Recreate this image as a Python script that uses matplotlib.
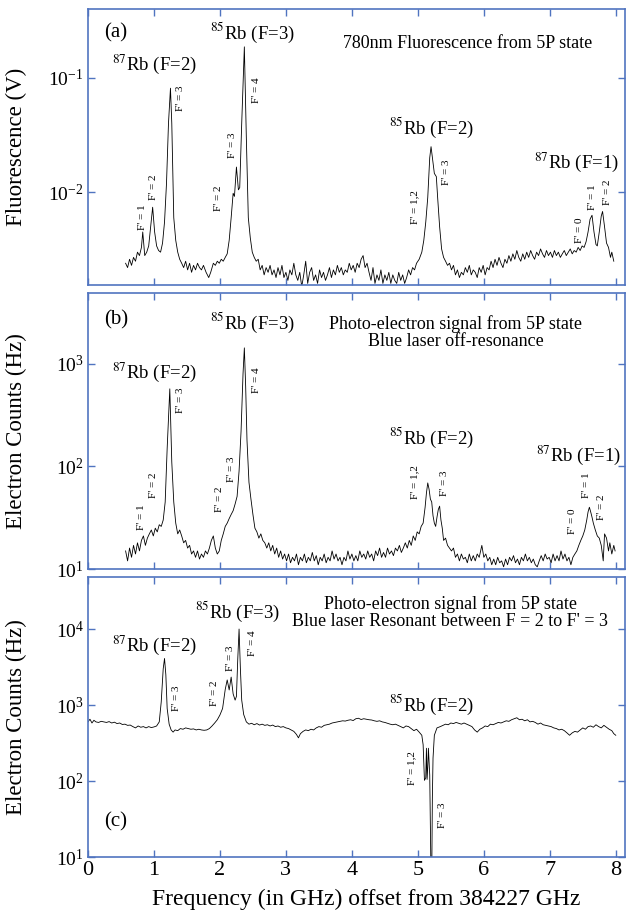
import numpy as np
import matplotlib.pyplot as plt
from matplotlib.ticker import LogLocator, NullLocator

plt.rcParams['font.family'] = ['Liberation Serif', 'DejaVu Serif']
plt.rcParams['mathtext.fontset'] = 'stix'

# ---- panel (a): 780nm fluorescence (V) ----
freq_a = [0.57, 0.60, 0.63, 0.66, 0.69, 0.72, 0.75, 0.78, 0.81, 0.83, 0.86, 0.89, 0.92, 0.95, 0.98,
          1.01, 1.04, 1.07, 1.10, 1.13, 1.16, 1.19, 1.22, 1.25, 1.27, 1.30, 1.33, 1.36, 1.39, 1.42,
          1.45, 1.48, 1.51, 1.54, 1.57, 1.60, 1.63, 1.66, 1.69, 1.72, 1.75, 1.79, 1.83, 1.86, 1.90,
          1.93, 1.96, 1.99, 2.02, 2.05, 2.08, 2.11, 2.14, 2.17, 2.20, 2.22, 2.25, 2.28, 2.30, 2.33,
          2.37, 2.40, 2.43, 2.46, 2.49, 2.52, 2.55, 2.58, 2.61, 2.64, 2.67, 2.70, 2.73, 2.76, 2.79,
          2.82, 2.85, 2.88, 2.91, 2.94, 2.97, 3.00, 3.03, 3.06, 3.09, 3.12, 3.15, 3.18, 3.21, 3.24,
          3.27, 3.30, 3.33, 3.36, 3.39, 3.42, 3.45, 3.48, 3.51, 3.54, 3.57, 3.60, 3.63, 3.66, 3.69,
          3.72, 3.75, 3.78, 3.81, 3.84, 3.87, 3.90, 3.93, 3.96, 3.99, 4.02, 4.05, 4.08, 4.11, 4.14,
          4.17, 4.20, 4.23, 4.26, 4.29, 4.32, 4.35, 4.38, 4.41, 4.44, 4.47, 4.50, 4.53, 4.56, 4.59,
          4.62, 4.65, 4.68, 4.71, 4.74, 4.77, 4.80, 4.83, 4.86, 4.89, 4.92, 4.95, 4.98, 5.02, 5.06,
          5.09, 5.12, 5.15, 5.18, 5.20, 5.23, 5.25, 5.28, 5.30, 5.33, 5.36, 5.39, 5.42, 5.45, 5.48,
          5.51, 5.54, 5.57, 5.60, 5.63, 5.66, 5.69, 5.72, 5.75, 5.78, 5.81, 5.84, 5.87, 5.90, 5.93,
          5.96, 5.99, 6.02, 6.05, 6.08, 6.11, 6.14, 6.17, 6.20, 6.23, 6.26, 6.29, 6.32, 6.35, 6.38,
          6.41, 6.44, 6.47, 6.50, 6.53, 6.56, 6.59, 6.62, 6.65, 6.68, 6.71, 6.74, 6.77, 6.80, 6.83,
          6.86, 6.89, 6.92, 6.95, 6.98, 7.01, 7.04, 7.07, 7.10, 7.13, 7.16, 7.19, 7.22, 7.25, 7.28,
          7.31, 7.34, 7.37, 7.40, 7.43, 7.46, 7.49, 7.52, 7.55, 7.58, 7.61, 7.64, 7.67, 7.70, 7.72,
          7.75, 7.78, 7.80, 7.83, 7.86, 7.89, 7.92, 7.94, 7.97]
fluor_a = [0.0024, 0.0022, 0.0026, 0.0023, 0.0027, 0.0025, 0.0030, 0.0028, 0.0033, 0.0045, 0.0028,
           0.0030, 0.0034, 0.0050, 0.0074, 0.0045, 0.0034, 0.0031, 0.0030, 0.0036, 0.0055, 0.012,
           0.040, 0.081, 0.040, 0.0060, 0.0038, 0.0030, 0.0026, 0.0024, 0.0022, 0.0025, 0.0021,
           0.0024, 0.0020, 0.0023, 0.0021, 0.0024, 0.0022, 0.0021, 0.0023, 0.0020, 0.0018, 0.0020,
           0.0024, 0.0023, 0.0025, 0.0024, 0.0026, 0.0025, 0.0027, 0.0029, 0.0038, 0.0060, 0.0098,
           0.0092, 0.0166, 0.0105, 0.0110, 0.040, 0.186, 0.030, 0.0060, 0.0040, 0.0030, 0.0027,
           0.0025, 0.0026, 0.0021, 0.0023, 0.0019, 0.0022, 0.0020, 0.0023, 0.0019, 0.0021, 0.0018,
           0.0022, 0.0019, 0.0023, 0.0018, 0.0020, 0.0017, 0.0021, 0.0019, 0.0024, 0.0019, 0.0017,
           0.0020, 0.0015, 0.0019, 0.0025, 0.0016, 0.0020, 0.0022, 0.0017, 0.0019, 0.0016, 0.0021,
           0.0018, 0.0020, 0.0017, 0.0019, 0.0022, 0.0018, 0.0021, 0.0019, 0.0023, 0.0020, 0.0022,
           0.0019, 0.0021, 0.0020, 0.0024, 0.0021, 0.0023, 0.0020, 0.0024, 0.0022, 0.0026, 0.0028,
           0.0022, 0.0024, 0.0020, 0.0017, 0.0022, 0.0016, 0.0019, 0.0017, 0.0021, 0.0016, 0.0019,
           0.0017, 0.0020, 0.0016, 0.0019, 0.0017, 0.0016, 0.0020, 0.0017, 0.0019, 0.0016, 0.0018,
           0.0021, 0.0019, 0.0022, 0.0021, 0.0024, 0.0026, 0.0030, 0.0038, 0.0055, 0.0090, 0.020,
           0.025, 0.018, 0.0146, 0.0137, 0.0090, 0.0050, 0.0032, 0.0027, 0.0025, 0.0023, 0.0024,
           0.0021, 0.0023, 0.0019, 0.0021, 0.0018, 0.0020, 0.0019, 0.0022, 0.0020, 0.0023, 0.0019,
           0.0021, 0.0020, 0.0018, 0.0022, 0.0020, 0.0023, 0.0019, 0.0022, 0.0021, 0.0025, 0.0022,
           0.0026, 0.0023, 0.0027, 0.0024, 0.0022, 0.0026, 0.0024, 0.0028, 0.0025, 0.0029, 0.0026,
           0.0031, 0.0027, 0.0025, 0.0029, 0.0026, 0.0030, 0.0027, 0.0031, 0.0028, 0.0026, 0.0030,
           0.0028, 0.0032, 0.0029, 0.0027, 0.0031, 0.0028, 0.0030, 0.0027, 0.0031, 0.0028, 0.0030,
           0.0027, 0.0029, 0.0031, 0.0028, 0.0030, 0.0032, 0.0029, 0.0031, 0.0030, 0.0033, 0.0031,
           0.0034, 0.0033, 0.0037, 0.0045, 0.0058, 0.0063, 0.0045, 0.0035, 0.0034, 0.0045, 0.0062,
           0.0068, 0.0050, 0.0036, 0.0033, 0.0027, 0.0030, 0.0025]

# ---- panel (b): photo-electron counts, blue laser off resonance (Hz) ----
freq_b = [0.57, 0.60, 0.63, 0.66, 0.69, 0.72, 0.75, 0.78, 0.81, 0.84, 0.87, 0.90, 0.93, 0.96, 0.99,
          1.02, 1.05, 1.08, 1.11, 1.14, 1.17, 1.20, 1.24, 1.27, 1.30, 1.33, 1.36, 1.39, 1.42, 1.45,
          1.48, 1.51, 1.54, 1.57, 1.60, 1.63, 1.66, 1.69, 1.72, 1.75, 1.78, 1.81, 1.84, 1.87, 1.90,
          1.93, 1.96, 1.99, 2.02, 2.05, 2.08, 2.11, 2.14, 2.17, 2.20, 2.23, 2.26, 2.29, 2.32, 2.35,
          2.37, 2.39, 2.41, 2.44, 2.47, 2.50, 2.53, 2.56, 2.59, 2.62, 2.65, 2.68, 2.71, 2.74, 2.77,
          2.80, 2.83, 2.86, 2.89, 2.92, 2.95, 2.98, 3.01, 3.04, 3.07, 3.10, 3.13, 3.16, 3.19, 3.22,
          3.25, 3.28, 3.31, 3.34, 3.37, 3.40, 3.43, 3.46, 3.49, 3.52, 3.55, 3.58, 3.61, 3.64, 3.67,
          3.70, 3.73, 3.76, 3.79, 3.82, 3.85, 3.88, 3.91, 3.94, 3.97, 4.00, 4.03, 4.06, 4.09, 4.12,
          4.15, 4.18, 4.21, 4.24, 4.27, 4.30, 4.33, 4.36, 4.39, 4.42, 4.45, 4.48, 4.51, 4.54, 4.57,
          4.60, 4.63, 4.66, 4.69, 4.72, 4.75, 4.78, 4.81, 4.84, 4.87, 4.90, 4.93, 4.96, 4.99, 5.02,
          5.05, 5.08, 5.11, 5.13, 5.15, 5.17, 5.19, 5.21, 5.23, 5.25, 5.27, 5.29, 5.31, 5.33, 5.35,
          5.37, 5.39, 5.42, 5.45, 5.48, 5.51, 5.54, 5.57, 5.60, 5.63, 5.66, 5.69, 5.72, 5.75, 5.78,
          5.81, 5.84, 5.87, 5.90, 5.93, 5.97, 6.00, 6.03, 6.06, 6.09, 6.12, 6.15, 6.18, 6.21, 6.24,
          6.27, 6.30, 6.33, 6.36, 6.39, 6.42, 6.45, 6.48, 6.51, 6.54, 6.57, 6.60, 6.63, 6.66, 6.69,
          6.72, 6.75, 6.78, 6.81, 6.84, 6.87, 6.90, 6.93, 6.96, 6.99, 7.02, 7.05, 7.08, 7.11, 7.14,
          7.17, 7.20, 7.23, 7.26, 7.29, 7.32, 7.35, 7.38, 7.41, 7.44, 7.47, 7.50, 7.53, 7.56, 7.58,
          7.60, 7.62, 7.64, 7.66, 7.69, 7.72, 7.75, 7.78, 7.81, 7.83, 7.86, 7.89, 7.91, 7.94, 7.97,
          7.99]
counts_b = [15, 12, 16, 13, 17, 14, 18, 15, 19, 21, 17, 20, 22, 24, 21, 25, 23, 27, 26, 30, 45, 150,
            570, 110, 45, 28, 22, 24, 21, 18, 19, 16, 17, 14, 15, 13, 15, 12.5, 14, 13, 15, 14, 16,
            19, 21, 16, 14, 15, 19, 22, 26, 28, 31, 34, 37, 43, 51, 90, 220, 800, 1430, 600, 180,
            70, 48, 34, 25, 23, 20, 22, 19, 18, 16, 18, 15, 17, 14, 16, 13, 15, 12.5, 14, 12, 14,
            11.5, 13, 12, 14, 11, 13, 12, 14, 11.5, 13, 12, 14.5, 12, 13.5, 11, 13, 12, 14, 11.5,
            13, 12, 15, 12.5, 14, 12, 13, 11, 13, 12, 15, 12.5, 14, 12, 13.5, 12, 15, 13, 14, 12.5,
            15, 13, 14, 12, 15, 13.5, 16, 13, 14.5, 13, 16, 14, 15, 13.5, 16, 15, 17, 14.5, 16, 18,
            16, 19, 17, 21, 19, 23, 22, 26, 28, 40, 55, 69, 60, 48, 45, 33, 28, 26, 32, 38, 41, 30,
            25, 19, 20, 17, 16, 15, 16, 13, 14, 12, 14, 12.5, 13, 11.5, 14, 12, 13.5, 12, 14, 13,
            17, 13, 14, 12, 13, 11, 12.5, 11, 13, 11.5, 12, 10.5, 12.5, 11, 13, 12, 13.5, 11.5,
            12.5, 11, 13, 12, 14, 12, 13, 11.5, 12.5, 11, 10.5, 12, 13.5, 12, 14, 12.5, 13, 11.5,
            14, 12, 13.5, 12, 15, 12.5, 14, 12, 13, 11, 13, 14, 15, 17, 19, 21, 24, 30, 36, 40, 36,
            32, 28, 24, 21, 20, 17, 12, 22, 20, 15, 18, 14, 17, 15]

# ---- panel (c): photo-electron counts, blue laser resonant (Hz) ----
freq_c = [0.00, 0.03, 0.06, 0.09, 0.12, 0.16, 0.20, 0.24, 0.28, 0.32, 0.36, 0.40, 0.44, 0.48, 0.52,
          0.56, 0.60, 0.64, 0.68, 0.72, 0.76, 0.80, 0.84, 0.88, 0.92, 0.96, 1.00, 1.04, 1.08, 1.11,
          1.14, 1.16, 1.18, 1.20, 1.23, 1.26, 1.29, 1.32, 1.36, 1.40, 1.44, 1.48, 1.52, 1.56, 1.60,
          1.64, 1.68, 1.72, 1.76, 1.80, 1.84, 1.88, 1.92, 1.96, 2.00, 2.04, 2.08, 2.11, 2.14, 2.17,
          2.20, 2.23, 2.25, 2.27, 2.29, 2.31, 2.33, 2.36, 2.40, 2.44, 2.48, 2.52, 2.56, 2.60, 2.64,
          2.68, 2.72, 2.76, 2.80, 2.84, 2.88, 2.92, 2.96, 3.00, 3.04, 3.08, 3.12, 3.16, 3.19, 3.22,
          3.26, 3.30, 3.34, 3.38, 3.42, 3.46, 3.50, 3.54, 3.58, 3.62, 3.66, 3.70, 3.74, 3.78, 3.82,
          3.86, 3.90, 3.94, 3.98, 4.02, 4.06, 4.10, 4.14, 4.18, 4.22, 4.26, 4.30, 4.34, 4.38, 4.42,
          4.46, 4.50, 4.54, 4.58, 4.62, 4.66, 4.70, 4.74, 4.78, 4.82, 4.86, 4.90, 4.94, 4.98, 5.02,
          5.06, 5.08, 5.10, 5.12, 5.13, 5.14, 5.15, 5.16, 5.18, 5.20, 5.21, 5.22, 5.23, 5.25, 5.29,
          5.34, 5.38, 5.42, 5.46, 5.50, 5.54, 5.58, 5.62, 5.66, 5.70, 5.74, 5.78, 5.82, 5.86, 5.90,
          5.94, 5.98, 6.02, 6.06, 6.10, 6.14, 6.18, 6.22, 6.26, 6.30, 6.34, 6.38, 6.42, 6.46, 6.50,
          6.54, 6.58, 6.62, 6.66, 6.70, 6.74, 6.78, 6.82, 6.86, 6.90, 6.94, 6.98, 7.02, 7.06, 7.10,
          7.14, 7.18, 7.22, 7.26, 7.30, 7.34, 7.38, 7.42, 7.46, 7.50, 7.54, 7.58, 7.62, 7.66, 7.70,
          7.74, 7.78, 7.82, 7.86, 7.90, 7.94, 7.97, 8.00]
counts_c = [600, 650, 580, 630, 600, 590, 610, 600, 590, 605, 580, 595, 570, 580, 555, 560, 540, 545,
            520, 500, 530, 510, 520, 500, 520, 505, 515, 530, 600, 1100, 3000, 4100, 2500, 900, 560,
            470, 440, 470, 460, 490, 480, 500, 490, 480, 485, 470, 480, 470, 465, 470, 490, 530, 580,
            640, 740, 900, 1600, 2140, 1580, 2330, 1400, 1160, 1300, 4000, 10000, 3000, 1160, 750,
            600, 560, 575, 550, 570, 545, 560, 540, 550, 530, 545, 520, 530, 510, 520, 500, 490, 470,
            450, 410, 370, 420, 450, 470, 460, 480, 470, 500, 520, 510, 540, 550, 560, 580, 590, 600,
            610, 620, 615, 630, 640, 625, 660, 670, 645, 660, 650, 640, 635, 620, 610, 620, 600, 590,
            575, 560, 550, 560, 540, 520, 500, 530, 520, 490, 460, 480, 440, 400, 300, 102, 110, 270,
            105, 150, 270, 120, 5, 5, 60, 200, 400, 500, 520, 540, 560, 550, 580, 570, 590, 575, 560,
            580, 560, 540, 520, 470, 440, 480, 500, 530, 520, 560, 550, 570, 590, 580, 600, 620, 610,
            640, 660, 680, 640, 650, 620, 640, 600, 610, 590, 560, 580, 550, 540, 530, 520, 500, 490,
            470, 480, 460, 430, 400, 430, 450, 440, 470, 500, 480, 520, 530, 510, 550, 520, 500, 540,
            510, 480, 460, 420, 400]

blue = '#5074c0'

fig = plt.figure(figsize=(6.27, 9.13), dpi=100)
L = 88 / 627
W = (625 - 88) / 627
ax_a = fig.add_axes([L, 1 - 285 / 913, W, 276 / 913])
ax_b = fig.add_axes([L, 1 - 569 / 913, W, 276 / 913])
ax_c = fig.add_axes([L, 1 - 857 / 913, W, 280 / 913])

ax_a.plot(freq_a, fluor_a, color='k', lw=0.6)
ax_b.plot(freq_b, counts_b, color='k', lw=0.6)
ax_c.plot(freq_c, counts_c, color='k', lw=0.6)

ax_a.set_ylim(1.55e-3, 0.398)
ax_b.set_ylim(10, 4900)
ax_c.set_ylim(10, 48400)

for ax in (ax_a, ax_b, ax_c):
    ax.set_yscale('log')
    ax.set_xlim(0, 8.14)
    ax.set_xticks(range(9))
    ax.yaxis.set_major_locator(LogLocator(base=10, numticks=10))
    ax.yaxis.set_minor_locator(NullLocator())
    ax.tick_params(which='major', direction='in', length=5, width=1, color=blue,
                   top=True, right=True, labelsize=14, pad=3)
    ax.tick_params(axis='x', labelsize=16)
    for sp in ax.spines.values():
        sp.set_color(blue)
        sp.set_linewidth(1.2)

ax_a.tick_params(labelbottom=False)
ax_b.tick_params(labelbottom=False)

ax_a.set_ylabel('Fluorescence (V)', fontsize=16.5)
ax_b.set_ylabel('Electron Counts (Hz)', fontsize=16.5)
ax_c.set_ylabel('Electron Counts (Hz)', fontsize=16.5)
for ax in (ax_a, ax_b, ax_c):
    ax.yaxis.set_label_coords(-0.114, 0.5)
ax_c.set_xlabel('Frequency (in GHz) offset from 384227 GHz', fontsize=17)
ax_c.xaxis.set_label_coords(0.518, -0.115)

big = 13.5
small = 8

# panel (a) labels
ax_a.text(0.42, 0.245, '(a)', fontsize=15, ha='center', va='center')
ax_a.text(1.0, 0.13, '$^{87}$Rb (F=2)', fontsize=big, ha='center', va='center')
ax_a.text(2.49, 0.245, '$^{85}$Rb (F=3)', fontsize=big, ha='center', va='center')
ax_a.text(5.75, 0.20, '780nm Fluorescence from 5P state', fontsize=13, ha='center', va='center')
ax_a.text(5.20, 0.0364, '$^{85}$Rb (F=2)', fontsize=big, ha='center', va='center')
ax_a.text(7.41, 0.0184, '$^{87}$Rb (F=1)', fontsize=big, ha='center', va='center')
for x, y, s in [(0.82, 0.0061, "F' = 1"), (0.99, 0.0111, "F' = 2"), (1.40, 0.0664, "F' = 3"),
                (1.98, 0.0089, "F' = 2"), (2.19, 0.0259, "F' = 3"), (2.55, 0.078, "F' = 4"),
                (4.95, 0.0074, "F' = 1,2"), (5.44, 0.0150, "F' = 3"), (7.45, 0.0047, "F' = 0"),
                (7.64, 0.0091, "F' = 1"), (7.87, 0.0100, "F' = 2")]:
    ax_a.text(x, y, s, fontsize=small, rotation=90, ha='center', va='center')

# panel (b) labels
ax_b.text(0.42, 2690, '(b)', fontsize=15, ha='center', va='center')
ax_b.text(1.0, 835, '$^{87}$Rb (F=2)', fontsize=big, ha='center', va='center')
ax_b.text(2.49, 2500, '$^{85}$Rb (F=3)', fontsize=big, ha='center', va='center')
ax_b.text(5.57, 2030, 'Photo-electron signal from 5P state\nBlue laser off-resonance',
          fontsize=13, ha='center', va='center', linespacing=1.0)
ax_b.text(5.20, 190, '$^{85}$Rb (F=2)', fontsize=big, ha='center', va='center')
ax_b.text(7.43, 129, '$^{87}$Rb (F=1)', fontsize=big, ha='center', va='center')
for x, y, s in [(0.81, 32, "F' = 1"), (1.0, 66, "F' = 2"), (1.40, 446, "F' = 3"),
                (1.99, 48, "F' = 2"), (2.17, 93, "F' = 3"), (2.55, 700, "F' = 4"),
                (4.95, 71, "F' = 1,2"), (5.40, 69, "F' = 3"), (7.34, 29, "F' = 0"),
                (7.56, 66, "F' = 1"), (7.79, 40, "F' = 2")]:
    ax_b.text(x, y, s, fontsize=small, rotation=90, ha='center', va='center')

# panel (c) labels
ax_c.text(0.42, 29, '(c)', fontsize=15, ha='center', va='center')
ax_c.text(1.0, 6150, '$^{87}$Rb (F=2)', fontsize=big, ha='center', va='center')
ax_c.text(2.26, 16700, '$^{85}$Rb (F=3)', fontsize=big, ha='center', va='center')
ax_c.text(5.49, 16700, "Photo-electron signal from 5P state\nBlue laser Resonant between F = 2 to F' = 3",
          fontsize=13, ha='center', va='center', linespacing=1.0)
ax_c.text(5.20, 1000, '$^{85}$Rb (F=2)', fontsize=big, ha='center', va='center')
for x, y, s in [(1.34, 1230, "F' = 3"), (1.92, 1440, "F' = 2"), (2.16, 4130, "F' = 3"),
                (2.49, 6550, "F' = 4"), (4.91, 149, "F' = 1,2"), (5.37, 35, "F' = 3")]:
    ax_c.text(x, y, s, fontsize=small, rotation=90, ha='center', va='center')

fig.savefig('out.png', dpi=100)
